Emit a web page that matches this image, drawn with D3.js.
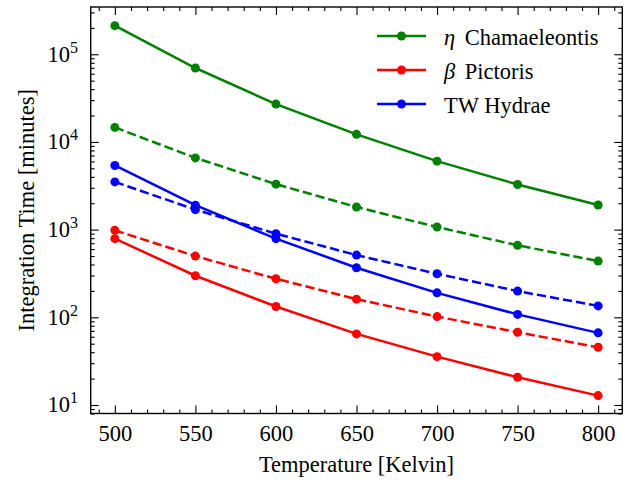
<!DOCTYPE html>
<html>
<head>
<meta charset="utf-8">
<script src="https://cdn.jsdelivr.net/npm/d3@7"></script>
<style>
  html, body { margin: 0; padding: 0; background: #fff; }
  svg text { font-family: "Liberation Serif", "Times New Roman", serif; fill: #000; }
</style>
</head>
<body>
<svg id="chart" width="637" height="480"></svg>
<script>
// ---- data ----
const temperatures = [500, 550, 600, 650, 700, 750, 800];
const etaSolid   = [212000, 69700, 27000, 12200, 6040, 3270, 1910];
const etaDashed  = [14650, 6580, 3300, 1810, 1070, 662, 438];
const betaSolid  = [789, 298, 133, 64.7, 35.6, 20.7, 12.8];
const betaDashed = [981, 499, 275, 161, 102, 67.6, 45.5];
const twSolid    = [5390, 1900, 789, 368, 190, 108, 66.5];
const twDashed   = [3500, 1690, 900, 512, 314, 199, 135];
const xTickValues = [500, 550, 600, 650, 700, 750, 800];
const yTickExponents = [1, 2, 3, 4, 5];
const seriesNames = ["η Chamaeleontis", "β Pictoris", "TW Hydrae"];
const seriesColors = ["#008000", "#ff0000", "#0000ff"];

const series = [
  { values: etaSolid,   color: seriesColors[0], dashed: false, label: seriesNames[0] },
  { values: etaDashed,  color: seriesColors[0], dashed: true },
  { values: betaSolid,  color: seriesColors[1], dashed: false, label: seriesNames[1] },
  { values: betaDashed, color: seriesColors[1], dashed: true },
  { values: twSolid,    color: seriesColors[2], dashed: false, label: seriesNames[2] },
  { values: twDashed,   color: seriesColors[2], dashed: true }
];

// ---- layout ----
const L = 90.7, R = 622.3, T = 7, B = 413.5;
const FS = "22.5px";
const svg = d3.select("#chart");

const x = d3.scaleLinear().domain([485, 815]).range([L, R]);
const y = d3.scaleLog().domain([Math.pow(10, 0.903), Math.pow(10, 5.539)]).range([B, T]);

// ---- ticks ----
const MAJ = 8, MIN = 4;
const xMinor = d3.range(490, 815, 10).filter(v => xTickValues.indexOf(v) < 0);
const yAll = y.ticks();
const yMinor = yAll.filter(v => Math.abs(Math.log10(v) - Math.round(Math.log10(v))) > 1e-9);
const yMajor = yTickExponents.map(e => Math.pow(10, e));

function styleAxis(g) {
  g.select(".domain").remove();
  g.selectAll("line").attr("stroke", "#000").attr("stroke-width", 1.1);
}

// bottom
svg.append("g").attr("transform", `translate(0,${B})`)
  .call(d3.axisBottom(x).tickValues(xTickValues).tickSize(-MAJ).tickFormat(d3.format("d")))
  .call(styleAxis)
  .call(g => g.selectAll("text").attr("y", 27).attr("dy", 0).style("font-size", FS));
svg.append("g").attr("transform", `translate(0,${B})`)
  .call(d3.axisBottom(x).tickValues(xMinor).tickSize(-MIN).tickFormat(""))
  .call(styleAxis);
// top
svg.append("g").attr("transform", `translate(0,${T})`)
  .call(d3.axisTop(x).tickValues(xTickValues).tickSize(-MAJ).tickFormat(""))
  .call(styleAxis);
svg.append("g").attr("transform", `translate(0,${T})`)
  .call(d3.axisTop(x).tickValues(xMinor).tickSize(-MIN).tickFormat(""))
  .call(styleAxis);
// left
svg.append("g").attr("transform", `translate(${L},0)`)
  .call(d3.axisLeft(y).tickValues(yMajor).tickSize(-MAJ).tickFormat(""))
  .call(styleAxis);
svg.append("g").attr("transform", `translate(${L},0)`)
  .call(d3.axisLeft(y).tickValues(yMinor).tickSize(-MIN).tickFormat(""))
  .call(styleAxis);
// right
svg.append("g").attr("transform", `translate(${R},0)`)
  .call(d3.axisRight(y).tickValues(yMajor).tickSize(-MAJ).tickFormat(""))
  .call(styleAxis);
svg.append("g").attr("transform", `translate(${R},0)`)
  .call(d3.axisRight(y).tickValues(yMinor).tickSize(-MIN).tickFormat(""))
  .call(styleAxis);

// y tick labels 10^n
const yl = svg.append("g");
yTickExponents.forEach(e => {
  const t = yl.append("text")
    .attr("x", 78).attr("y", y(Math.pow(10, e)) + 7.4)
    .attr("text-anchor", "end").style("font-size", FS);
  t.append("tspan").text("10");
  t.append("tspan").attr("dy", -9).style("font-size", "16px").text(String(e));
});

// ---- lines ----
const line = d3.line().x((d, i) => x(temperatures[i])).y(d => y(d));
const plot = svg.append("g");
series.forEach(s => {
  plot.append("path").datum(s.values)
    .attr("d", line).attr("fill", "none")
    .attr("stroke", s.color).attr("stroke-width", 2.5)
    .attr("stroke-dasharray", s.dashed ? "9.25,4" : null);
  plot.selectAll(null).data(s.values).enter().append("circle")
    .attr("cx", (d, i) => x(temperatures[i])).attr("cy", d => y(d))
    .attr("r", 4.5).attr("fill", s.color);
});

// ---- frame ----
svg.append("rect").attr("x", L).attr("y", T).attr("width", R - L).attr("height", B - T)
  .attr("fill", "none").attr("stroke", "#000").attr("stroke-width", 1.4);

// ---- axis titles ----
svg.append("text").attr("x", (L + R) / 2).attr("y", 472).attr("text-anchor", "middle")
  .style("font-size", FS).text("Temperature [Kelvin]");
svg.append("text").attr("transform", `translate(33.5,${(T + B) / 2}) rotate(-90)`)
  .attr("text-anchor", "middle").style("font-size", FS).text("Integration Time [minutes]");

// ---- legend ----
const legendItems = series.filter(s => s.label);
const lg = svg.append("g");
legendItems.forEach((s, i) => {
  const ry = 36 + i * 34;
  lg.append("line").attr("x1", 377).attr("x2", 426).attr("y1", ry).attr("y2", ry)
    .attr("stroke", s.color).attr("stroke-width", 2.5);
  lg.append("circle").attr("cx", 401.5).attr("cy", ry).attr("r", 4.5).attr("fill", s.color);
  const t = lg.append("text").attr("x", 444).attr("y", ry + 8.5).style("font-size", FS);
  const parts = s.label.split(" ");
  if (parts[0] === "η" || parts[0] === "β") {
    t.append("tspan").style("font-style", "italic").text(parts[0]);
    t.append("tspan").attr("dx", 4).text(" " + parts.slice(1).join(" "));
  } else {
    t.text(s.label);
  }
});
</script>
</body>
</html>
